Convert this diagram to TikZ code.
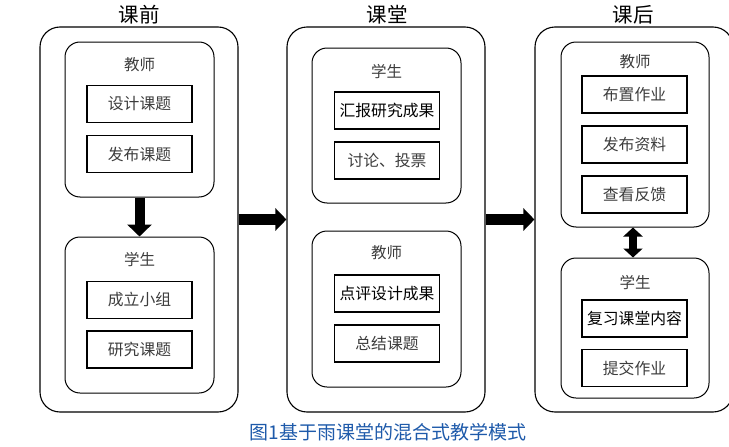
\documentclass[tikz,border=0pt]{standalone}
\usepackage{fontspec}
\newfontfamily\cjk{Noto Sans CJK SC}
\usetikzlibrary{arrows.meta}
\definecolor{capblue}{RGB}{30,90,170}
\definecolor{txtgray}{RGB}{60,60,60}
\tikzset{
  outerbox/.style={draw=black, line width=1.1pt, rounded corners=20pt, minimum width=198pt, minimum height=385pt, inner sep=0pt},
  innerbox/.style={draw=black, line width=1pt, rounded corners=15pt, minimum width=149pt, inner sep=0pt},
  itembox/.style={draw=black, line width=1.2pt, minimum width=105pt, minimum height=37pt, inner sep=0pt, font=\cjk\fontsize{15.8}{17}\selectfont, text=txtgray},
  darkitem/.style={itembox, text=black},
  grouplabel/.style={font=\cjk\fontsize{15.5}{17}\selectfont, text=txtgray, inner sep=0pt},
  coltitle/.style={font=\cjk\fontsize{20.5}{22}\selectfont, inner sep=0pt},
  bigarrow/.style={line width=11pt, -{Triangle[width=22pt,length=11pt]}},
  downarrow/.style={line width=10pt, -{Triangle[width=24pt,length=12pt]}},
  dblarrow/.style={line width=8pt, {Triangle[width=19pt,length=9pt]}-{Triangle[width=19pt,length=9pt]}},
}
\begin{document}
\begin{tikzpicture}[x=1pt,y=-1pt]
\useasboundingbox (0,0) rectangle (729,447);
% column titles
\node[coltitle] (t1) at (139,15) {课前};
\node[coltitle] (t2) at (387,15) {课堂};
\node[coltitle] (t3) at (633,15) {课后};
% outer boxes
\node[outerbox] (L) at (139,219.5) {};
\node[outerbox] (M) at (386,219.5) {};
\node[outerbox] (R) at (634,219.5) {};
% left column
\node[innerbox, minimum height=155pt] (LT) at (139.5,119.5) {};
\node[innerbox, minimum height=156pt] (LS) at (139.5,315) {};
\node[grouplabel] (LTl) at (139.5,65) {教师};
\node[itembox] (l1) at (139.5,104) {设计课题};
\node[itembox] (l2) at (139.5,154) {发布课题};
\node[grouplabel] (LSl) at (139.5,260) {学生};
\node[itembox] (l3) at (139.5,300) {成立小组};
\node[itembox] (l4) at (139.5,349.5) {研究课题};
% middle column
\node[innerbox, minimum height=155pt] (MS) at (386.5,125.5) {};
\node[innerbox, minimum height=156pt] (MT) at (386.5,309) {};
\node[grouplabel] (MSl) at (386.5,72) {学生};
\node[darkitem] (m1) at (387,110.5) {汇报研究成果};
\node[itembox] (m2) at (387,160.5) {讨论、投票};
\node[grouplabel] (MTl) at (386.5,253) {教师};
\node[darkitem] (m3) at (387,293.5) {点评设计成果};
\node[itembox] (m4) at (387,343.5) {总结课题};
% right column
\node[innerbox, minimum width=148pt, minimum height=185pt] (RT) at (635,134.5) {};
\node[innerbox, minimum width=148pt, minimum height=140pt] (RS) at (635,328) {};
\node[grouplabel] (RTl) at (635,62) {教师};
\node[itembox] (r1) at (634.5,94.5) {布置作业};
\node[itembox] (r2) at (634.5,144.5) {发布资料};
\node[itembox] (r3) at (634.5,194.5) {查看反馈};
\node[grouplabel] (RSl) at (635,283) {学生};
\node[darkitem] (r4) at (634.5,318.5) {复习课堂内容};
\node[itembox] (r5) at (634.5,368) {提交作业};
% arrows
\draw[downarrow] (LT.south) -- (LS.north);
\draw[bigarrow] (L.east) -- (M.west);
\draw[bigarrow] (M.east) -- (R.west);
\draw[dblarrow] ([xshift=-2pt]RT.south) -- ([xshift=-2pt]RS.north);
% caption
\node[font=\cjk\fontsize{19}{21}\selectfont, text=capblue, inner sep=0pt] (cap) at (388,432) {图1基于雨课堂的混合式教学模式};
\end{tikzpicture}
\end{document}
